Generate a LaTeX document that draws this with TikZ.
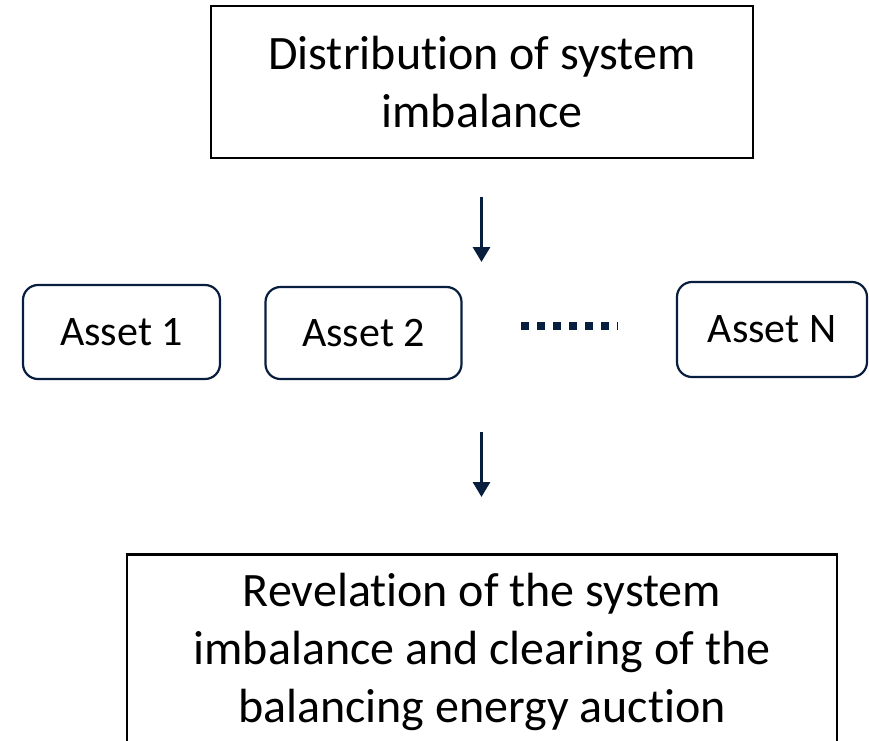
\documentclass[tikz,border=0pt]{standalone}
\usepackage{fontspec}
\setmainfont[Ligatures=NoCommon]{Carlito}
\usetikzlibrary{arrows.meta}
\definecolor{navy}{RGB}{8,30,62}
\tikzset{
  mainbox/.style={draw=black, line width=2.6pt, align=center, inner sep=0pt,
    font=\fontsize{48}{58}\selectfont},
  assetbox/.style={draw=navy, line width=2.2pt, rounded corners=15pt, inner sep=0pt,
    font=\fontsize{42}{50}\selectfont},
  flow/.style={draw=navy, line width=3pt, -{Triangle[width=17pt,length=15pt]}},
  dots/.style={draw=navy, line width=7.5pt, dash pattern=on 8pt off 8pt}
}
\begin{document}
\begin{tikzpicture}[x=1pt,y=-1pt]
\useasboundingbox (0,0) rectangle (869,740);
\begin{scope}
\clip (0,0) rectangle (869,740);
\node[mainbox, minimum width=542pt, minimum height=152pt] (dist) at (482,82)
  {Distribution of system\\imbalance};
\node[assetbox, minimum width=197pt, minimum height=94pt] (a1) at (121.5,332) {Asset 1};
\node[assetbox, minimum width=196pt, minimum height=92pt] (a2) at (363.5,333) {Asset 2};
\node[assetbox, minimum width=190pt, minimum height=95pt] (aN) at (772,329.5) {Asset N};
\coordinate (d1) at (521,326);
\coordinate (d2) at (618,326);
\draw[dots] (d1) -- (d2);
\coordinate (t1) at (481.5,197);
\coordinate (t2) at (481.5,262);
\draw[flow] (t1) -- (t2);
\coordinate (b1) at (481.5,432);
\coordinate (b2) at (481.5,497);
\draw[flow] (b1) -- (b2);
\node[mainbox, minimum width=710pt, minimum height=200pt, anchor=north] (rev) at (482,553)
  {};
\node[font=\fontsize{48}{58}\selectfont, align=center, anchor=north, inner sep=0pt] (revtext) at (482,573)
  {Revelation of the system\\imbalance and clearing of the\\balancing energy auction};
\end{scope}
\end{tikzpicture}
\end{document}
